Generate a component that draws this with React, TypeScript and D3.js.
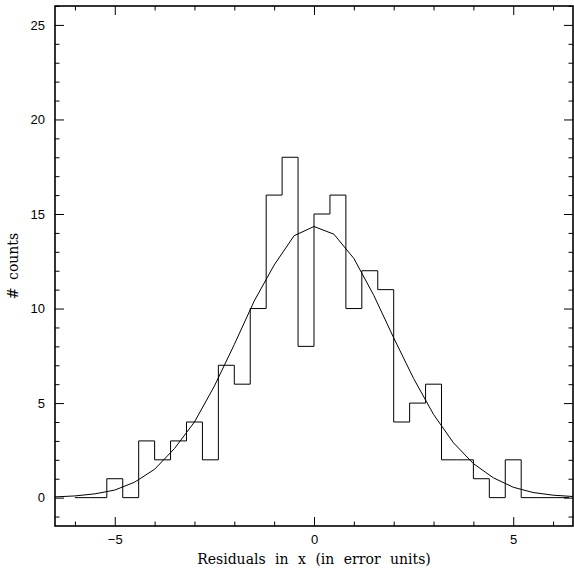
import React, { useEffect, useRef } from 'react';
import * as d3 from 'd3';

// histogram bin edges (error units) and counts per bin
const binEdges = [
  -6.0, -5.6, -5.2, -4.8, -4.4, -4.0, -3.6, -3.2, -2.8, -2.4, -2.0, -1.6, -1.2, -0.8, -0.4, 0.0,
  0.4, 0.8, 1.2, 1.6, 2.0, 2.4, 2.8, 3.2, 3.6, 4.0, 4.4, 4.8, 5.2, 5.6, 6.0, 6.4,
];
const counts = [
  0, 0, 1, 0, 3, 2, 3, 4, 2, 7, 6, 10, 16, 18, 8,
  15, 16, 10, 12, 11, 4, 5, 6, 2, 2, 1, 0, 2, 0, 0, 0,
];

// fitted curve, sampled every half unit
const fitX = [
  -6.5, -6.0, -5.5, -5.0, -4.5, -4.0, -3.5, -3.0, -2.5, -2.0, -1.5, -1.0, -0.5, 0.0,
  0.5, 1.0, 1.5, 2.0, 2.5, 3.0, 3.5, 4.0, 4.5, 5.0, 5.5, 6.0, 6.5,
];
const fitY = [
  0.04, 0.09, 0.2, 0.4, 0.82, 1.5, 2.6, 4.0, 5.9, 8.1, 10.4, 12.3, 13.85, 14.34,
  13.93, 12.65, 10.7, 8.45, 6.3, 4.4, 2.9, 1.8, 1.05, 0.55, 0.27, 0.13, 0.06,
];

const xMajor = [-5, 0, 5];
const xMinor = [-6, -4, -3, -2, -1, 1, 2, 3, 4, 6];
const yMajor = [0, 5, 10, 15, 20, 25];
const yMinor = [-1, 1, 2, 3, 4, 6, 7, 8, 9, 11, 12, 13, 14, 16, 17, 18, 19, 21, 22, 23, 24, 26];

const W = 574;
const H = 572;

function ResidualChart() {
  const ref = useRef<SVGSVGElement>(null);

  useEffect(() => {
    const svg = d3.select(ref.current);
    svg.selectAll('*').remove();

    const left = 55, right = 573, top = 6, bottom = 526;

    const x = d3.scaleLinear().domain([-6.5, 6.5]).range([left, right]);
    const y = d3.scaleLinear().domain([-1.5, 26]).range([bottom, top]);

    const tickFont = 'Liberation Sans, Arial, sans-serif';
    const labelFont = 'DejaVu Serif, serif';

    const styleAxis = (g: any) => {
      g.select('.domain').remove();
      g.selectAll('line').attr('stroke', '#000').attr('stroke-width', 1);
      g.selectAll('text')
        .attr('fill', '#000')
        .style('font-family', tickFont)
        .style('font-size', '13px');
    };

    // bottom
    svg.append('g')
      .attr('transform', `translate(0,${bottom})`)
      .call(d3.axisBottom(x).tickValues(xMajor).tickSize(-9).tickPadding(9).tickFormat(d3.format('d')))
      .call(styleAxis);
    svg.append('g')
      .attr('transform', `translate(0,${bottom})`)
      .call(d3.axisBottom(x).tickValues(xMinor).tickSize(-4.5).tickFormat(() => ''))
      .call(styleAxis);
    // top
    svg.append('g')
      .attr('transform', `translate(0,${top})`)
      .call(d3.axisTop(x).tickValues(xMajor).tickSize(-9).tickFormat(() => ''))
      .call(styleAxis);
    svg.append('g')
      .attr('transform', `translate(0,${top})`)
      .call(d3.axisTop(x).tickValues(xMinor).tickSize(-4.5).tickFormat(() => ''))
      .call(styleAxis);
    // left
    svg.append('g')
      .attr('transform', `translate(${left},0)`)
      .call(d3.axisLeft(y).tickValues(yMajor).tickSize(-9).tickPadding(10).tickFormat(d3.format('d')))
      .call(styleAxis);
    svg.append('g')
      .attr('transform', `translate(${left},0)`)
      .call(d3.axisLeft(y).tickValues(yMinor).tickSize(-4.5).tickFormat(() => ''))
      .call(styleAxis);
    // right
    svg.append('g')
      .attr('transform', `translate(${right},0)`)
      .call(d3.axisRight(y).tickValues(yMajor).tickSize(-9).tickFormat(() => ''))
      .call(styleAxis);
    svg.append('g')
      .attr('transform', `translate(${right},0)`)
      .call(d3.axisRight(y).tickValues(yMinor).tickSize(-4.5).tickFormat(() => ''))
      .call(styleAxis);

    // frame
    svg.append('rect')
      .attr('x', left)
      .attr('y', top)
      .attr('width', right - left)
      .attr('height', bottom - top)
      .attr('fill', 'none')
      .attr('stroke', '#000')
      .attr('stroke-width', 1.6);

    // histogram
    const histPts: [number, number][] = binEdges.map((e, i) => [e, counts[Math.min(i, counts.length - 1)]]);
    svg.append('path')
      .datum(histPts)
      .attr('fill', 'none')
      .attr('stroke', '#000')
      .attr('stroke-width', 1)
      .attr('d', d3.line<[number, number]>()
        .x(d => x(d[0]))
        .y(d => y(d[1]))
        .curve(d3.curveStepAfter));

    // fit
    svg.append('path')
      .datum(fitX.map((v, i) => [v, fitY[i]] as [number, number]))
      .attr('fill', 'none')
      .attr('stroke', '#000')
      .attr('stroke-width', 1)
      .attr('d', d3.line<[number, number]>()
        .x(d => x(d[0]))
        .y(d => y(d[1])));

    // axis labels
    svg.append('text')
      .attr('x', x(0))
      .attr('y', 564)
      .attr('text-anchor', 'middle')
      .style('font-family', labelFont)
      .style('font-size', '14px')
      .style('word-spacing', '5px')
      .text('Residuals in x (in error units)');

    svg.append('text')
      .attr('transform', `translate(18,${(top + bottom) / 2}) rotate(-90)`)
      .attr('text-anchor', 'middle')
      .style('font-family', labelFont)
      .style('font-size', '14px')
      .style('word-spacing', '3px')
      .text('# counts');
  }, []);

  return (
    <svg ref={ref} width={W} height={H}
      style={{ position: 'absolute', left: 0, top: 0, background: '#fff' }} />
  );
}

export default function App() {
  return <ResidualChart />;
}
